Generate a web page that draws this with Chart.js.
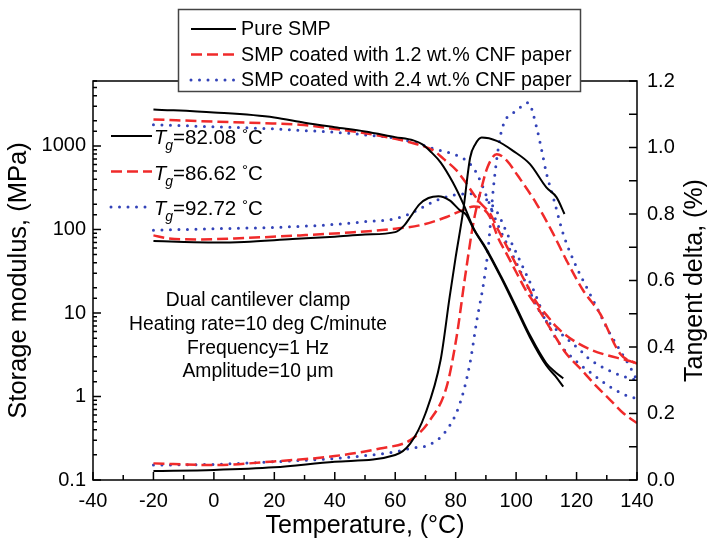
<!DOCTYPE html>
<html>
<head>
<meta charset="utf-8">
<script src="https://cdn.jsdelivr.net/npm/chart.js@4.4.1/dist/chart.umd.min.js"></script>
<style>
html, body { margin: 0; padding: 0; background: #fff; }
</style>
</head>
<body>
<canvas id="myChart" width="711" height="543"></canvas>
<script>
// storage modulus E' (MPa), loss modulus E'' (MPa) and tan delta
var tBlackE = [-20, 0, 20, 30, 40, 50, 60, 66, 69, 72, 75, 79, 82.5, 86, 90, 95, 100, 104.6, 110, 113, 115.6];
var blackE = [2740, 2520, 2200, 1900, 1680, 1495, 1277, 1166, 1045, 838, 637, 370, 204, 102, 60, 27.5, 11.9, 5.4, 2.5, 1.95, 1.65];
var tBlackLoss = [-20, -10, 0, 10, 26, 40, 50, 60, 63, 65, 68, 71, 74.3, 78, 81.4, 83.5, 86, 90, 95, 100, 104.6, 110, 113, 115.6];
var blackLoss = [73, 71, 70, 71, 77, 82, 87, 93, 112, 141, 200, 238, 250, 223, 170, 150, 100, 58, 26.5, 11.3, 5.1, 2.35, 1.75, 1.31];
var tBlackTan = [-20, 0, 20, 40, 60, 65, 70, 75, 78, 80, 82.5, 84.8, 86.5, 88.6, 93.6, 99, 104.6, 110, 113.4, 116];
var blackTan = [0.027, 0.03, 0.038, 0.055, 0.075, 0.11, 0.20, 0.36, 0.55, 0.67, 0.81, 0.97, 1.01, 1.03, 1.02, 0.99, 0.95, 0.88, 0.85, 0.80];

var tRedE = [-20, 0, 16, 28.5, 40, 50, 60, 66, 72.6, 76, 80.3, 83, 85.8, 88, 91.4, 94, 97, 100, 103.5, 107, 110, 113.4, 118.9, 124.5, 130, 136.6, 140];
var redE = [2080, 1960, 1880, 1795, 1600, 1420, 1220, 1080, 885, 700, 510, 380, 270, 210, 155, 100, 62, 38, 22, 13, 9.5, 6.8, 4.7, 3.66, 3.13, 2.72, 2.49];
var tRedLoss = [-20, -15, -5, 10, 28.5, 45, 60, 68, 77, 82.5, 86, 88, 91.4, 94, 97, 100, 103.5, 106.8, 112.3, 116.5, 121.2, 126.7, 131, 135.5, 140];
var redLoss = [85, 78, 76, 79, 85, 92, 102, 112, 141, 172, 188, 185, 140, 80, 50, 31, 18, 12, 5.7, 3.3, 2.17, 1.31, 0.92, 0.63, 0.48];
var tRedTan = [-20, 0, 20, 40, 55, 65, 71.5, 77, 80.3, 83.1, 86, 88.6, 90.5, 93.6, 97, 100.2, 106.8, 112.3, 116.7, 122.2, 127.8, 134.4, 140];
var redTan = [0.05, 0.045, 0.056, 0.072, 0.095, 0.12, 0.18, 0.28, 0.43, 0.61, 0.78, 0.88, 0.94, 0.98, 0.96, 0.92, 0.83, 0.74, 0.66, 0.57, 0.50, 0.38, 0.35];

var tBlueE = [-20, 0, 20, 28.5, 40, 50, 60, 66, 72.5, 80.3, 84.7, 87, 90.3, 92.4, 95, 98, 101, 104, 107.9, 112, 116.7, 121.2, 124, 130, 136, 140];
var blueE = [1795, 1700, 1600, 1540, 1460, 1360, 1240, 1110, 930, 773, 614, 467, 246, 155, 94, 57, 34, 20, 10.3, 7, 4.96, 3.59, 2.86, 2.11, 1.72, 1.57];
var tBlueLoss = [-20, 0, 20, 28.5, 40, 50, 60, 65, 72.6, 79.2, 84, 88, 91, 94, 97, 100, 103, 106, 110, 115, 119.5, 125, 131, 137.6, 140];
var blueLoss = [98, 102, 106, 109, 115, 124, 135, 155, 215, 257, 268, 255, 215, 155, 90, 53, 31, 18, 8, 4.0, 2.72, 1.89, 1.31, 0.99, 0.96];
var tBlueTan = [-20, 0, 20, 40, 60, 65, 71.5, 77, 81.4, 84.7, 87, 89.2, 90.8, 92.5, 94.7, 96.3, 98.5, 101.3, 104, 106.8, 108.5, 110.1, 112.3, 115.6, 120, 123.3, 127.2, 130.5, 134.4, 137.7, 140];
var blueTan = [0.045, 0.047, 0.055, 0.065, 0.085, 0.095, 0.107, 0.15, 0.23, 0.35, 0.48, 0.59, 0.70, 0.88, 1.03, 1.08, 1.10, 1.12, 1.135, 1.06, 0.99, 0.92, 0.85, 0.74, 0.64, 0.58, 0.51, 0.45, 0.39, 0.34, 0.30];

var seriesNames = ['Pure SMP', 'SMP coated with 1.2 wt.% CNF paper', 'SMP coated with 2.4 wt.% CNF paper'];
var tgValues = ['82.08', '86.62', '92.72'];
var noteLines = ['Dual cantilever clamp', 'Heating rate=10 deg C/minute', 'Frequency=1 Hz', 'Amplitude=10 \u03bcm'];
var rightTitle = 'Tangent delta, (%)';
var xTicks = [-40, -30, -20, -10, 0, 10, 20, 30, 40, 50, 60, 70, 80, 90, 100, 110, 120, 130, 140];
var tanTicks = [0, 0.1, 0.2, 0.3, 0.4, 0.5, 0.6, 0.7, 0.8, 0.9, 1.0, 1.1, 1.2];

var FONT = '"Liberation Sans", Arial, sans-serif';
var styles = [
    { color: '#000000', width: 2, dash: [], cap: 'butt' },
    { color: '#f02a2a', width: 2.5, dash: [11, 5], cap: 'butt' },
    { color: '#3343b8', width: 3, dash: [0, 8.5], cap: 'round' }
];

function pairs(ts, vs) {
    return ts.map(function (t, i) { return { x: t, y: vs[i] }; });
}

function makeSet(ts, vs, s, axis) {
    var st = styles[s];
    return {
        data: pairs(ts, vs),
        yAxisID: axis,
        borderColor: st.color,
        borderWidth: st.width,
        borderDash: st.dash,
        borderCapStyle: st.cap,
        pointRadius: 0,
        fill: false,
        cubicInterpolationMode: 'monotone'
    };
}

function isPow10(v) {
    var l = Math.log10(v);
    return Math.abs(l - Math.round(l)) < 1e-6;
}

function setStroke(ctx, s) {
    var st = styles[s];
    ctx.strokeStyle = st.color;
    ctx.lineWidth = st.width;
    ctx.setLineDash(st.dash);
    ctx.lineCap = st.cap;
}

var decor = {
    id: 'decor',
    afterDraw: function (chart) {
        var ctx = chart.ctx;
        var a = chart.chartArea;
        var sx = chart.scales.x, sl = chart.scales.yE, sr = chart.scales.yT;
        ctx.save();
        ctx.setLineDash([]);
        ctx.strokeStyle = '#000';
        ctx.lineWidth = 1.5;
        ctx.strokeRect(a.left, a.top, a.right - a.left, a.bottom - a.top);

        // inward tick marks
        ctx.beginPath();
        xTicks.forEach(function (v) {
            var p = sx.getPixelForValue(v);
            var len = (v % 20 === 0) ? 8 : 5;
            ctx.moveTo(p, a.bottom);
            ctx.lineTo(p, a.bottom - len);
        });
        sl.ticks.forEach(function (t) {
            var p = sl.getPixelForValue(t.value);
            var len = isPow10(t.value) ? 8 : 4;
            ctx.moveTo(a.left, p);
            ctx.lineTo(a.left + len, p);
        });
        tanTicks.forEach(function (v) {
            var p = sr.getPixelForValue(v);
            ctx.moveTo(a.right, p);
            ctx.lineTo(a.right - 8, p);
        });
        ctx.stroke();

        // right axis title, reading bottom to top
        ctx.save();
        ctx.translate(695, (a.top + a.bottom) / 2);
        ctx.rotate(-Math.PI / 2);
        ctx.fillStyle = '#000';
        ctx.font = '25px ' + FONT;
        ctx.textAlign = 'center';
        ctx.textBaseline = 'middle';
        ctx.fillText(rightTitle, 0, 0);
        ctx.restore();

        // legend box
        ctx.fillStyle = '#fff';
        ctx.fillRect(178.5, 9.5, 402, 82);
        ctx.strokeStyle = '#444';
        ctx.lineWidth = 1.5;
        ctx.strokeRect(178.5, 9.5, 402, 82);
        ctx.textBaseline = 'middle';
        ctx.textAlign = 'left';
        for (var i = 0; i < 3; i++) {
            var y = 29 + i * 25.5;
            setStroke(ctx, i);
            ctx.beginPath();
            ctx.moveTo(191, y);
            ctx.lineTo(236, y);
            ctx.stroke();
            ctx.fillStyle = '#000';
            ctx.font = '19.7px ' + FONT;
            ctx.fillText(seriesNames[i], 241, y + 1);
        }

        // Tg legend
        for (var j = 0; j < 3; j++) {
            var ty = 136 + j * 35.5;
            setStroke(ctx, j);
            ctx.beginPath();
            ctx.moveTo(111, ty);
            ctx.lineTo(152, ty);
            ctx.stroke();
            ctx.fillStyle = '#000';
            ctx.textBaseline = 'alphabetic';
            var x0 = 154, base = ty + 8;
            ctx.font = 'italic 20px ' + FONT;
            ctx.fillText('T', x0, base);
            x0 += ctx.measureText('T').width;
            ctx.font = 'italic 14px ' + FONT;
            ctx.fillText('g', x0 - 1, base + 6);
            x0 += ctx.measureText('g').width - 1;
            ctx.font = '20.5px ' + FONT;
            var s = '=' + tgValues[j] + ' ';
            ctx.fillText(s, x0, base);
            x0 += ctx.measureText(s).width;
            ctx.font = '15px ' + FONT;
            ctx.fillText('\u00b0', x0, base - 5);
            x0 += ctx.measureText('\u00b0').width;
            ctx.font = '20.5px ' + FONT;
            ctx.fillText('C', x0, base);
        }

        // test conditions
        ctx.textAlign = 'center';
        ctx.textBaseline = 'middle';
        ctx.font = '19.3px ' + FONT;
        noteLines.forEach(function (line, k) {
            ctx.fillText(line, 258, 301 + k * 23.7);
        });
        ctx.restore();
    }
};

var datasets = [
    makeSet(tBlackE, blackE, 0, 'yE'),
    makeSet(tBlackLoss, blackLoss, 0, 'yE'),
    makeSet(tBlackTan, blackTan, 0, 'yT'),
    makeSet(tRedE, redE, 1, 'yE'),
    makeSet(tRedLoss, redLoss, 1, 'yE'),
    makeSet(tRedTan, redTan, 1, 'yT'),
    makeSet(tBlueE, blueE, 2, 'yE'),
    makeSet(tBlueLoss, blueLoss, 2, 'yE'),
    makeSet(tBlueTan, blueTan, 2, 'yT')
];

var ctx = document.getElementById('myChart').getContext('2d');
var chart = new Chart(ctx, {
    type: 'line',
    data: { datasets: datasets },
    options: {
        responsive: false,
        animation: false,
        devicePixelRatio: 1,
        layout: { padding: { top: 81, left: 0, right: 0, bottom: 0 } },
        plugins: { legend: { display: false }, tooltip: { enabled: false } },
        scales: {
            x: {
                type: 'linear',
                min: -40, max: 140,
                grid: { display: false, drawTicks: false },
                border: { display: false },
                ticks: { stepSize: 20, padding: 9, color: '#000', font: { family: FONT, size: 20 } },
                title: { display: true, text: 'Temperature, (\u00b0C)', color: '#000', padding: { top: 2, bottom: 2 }, font: { family: FONT, size: 25 } },
                afterFit: function (s) { s.height = 63; }
            },
            yE: {
                type: 'logarithmic',
                position: 'left',
                min: 0.1, max: 6000,
                grid: { display: false, drawTicks: false },
                border: { display: false },
                ticks: {
                    autoSkip: false, padding: 7, color: '#000', font: { family: FONT, size: 20 },
                    callback: function (v) { return isPow10(v) ? String(v) : ''; }
                },
                title: { display: true, text: 'Storage modulus, (MPa)', color: '#000', padding: { top: 4, bottom: 0 }, font: { family: FONT, size: 25.5 } },
                afterFit: function (s) { s.width = 93; }
            },
            yT: {
                type: 'linear',
                position: 'right',
                min: 0, max: 1.2,
                grid: { display: false, drawTicks: false },
                border: { display: false },
                ticks: {
                    stepSize: 0.2, padding: 10, color: '#000', font: { family: FONT, size: 20 },
                    callback: function (v) { return v.toFixed(1); }
                },
                title: { display: false },
                afterFit: function (s) { s.width = 74; }
            }
        }
    },
    plugins: [decor]
});
</script>
</body>
</html>
